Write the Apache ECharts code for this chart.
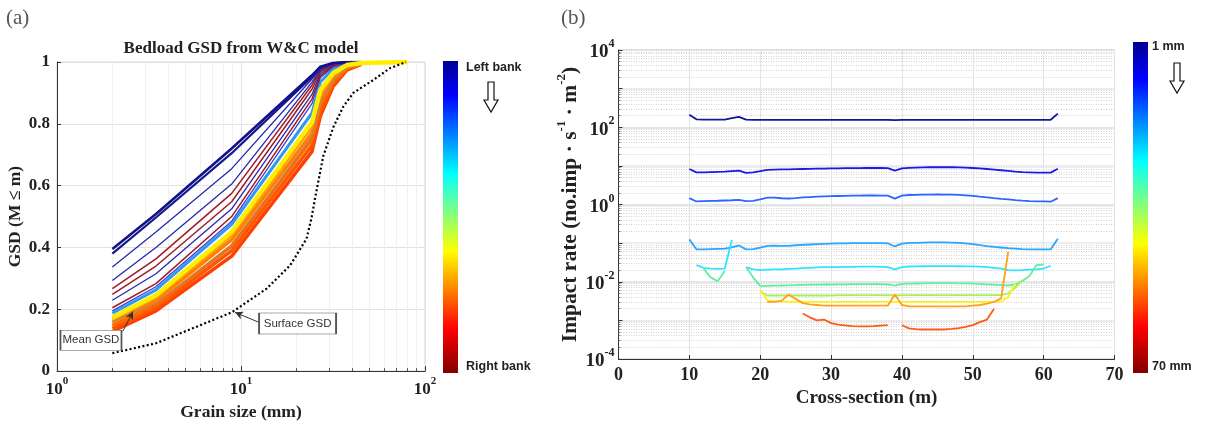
<!DOCTYPE html>
<html><head><meta charset="utf-8">
<script src="https://cdn.jsdelivr.net/npm/echarts@6/dist/echarts.min.js"></script>
<style>html,body{margin:0;padding:0;background:#fff}#c{width:1206px;height:426px}</style>
</head><body><div id="c"></div>
<script>
// ---------------- Panel (a): bedload GSD curves ----------------
const grainSize = [2, 3.45, 8.9, 24.3, 27, 31.6, 37.6, 45, 80];
const gsdNavyA  = [0.395, 0.508, 0.720, 0.957, 0.985, 0.997, 1, 1];
const gsdNavyB  = [0.380, 0.497, 0.705, 0.952, 0.982, 0.996, 1, 1];
const gsdBlue1  = [0.337, 0.450, 0.655, 0.945, 0.978, 0.995, 1, 1];
const gsdBlue2  = [0.293, 0.400, 0.605, 0.935, 0.975, 0.993, 1, 1];
const gsdRed1   = [0.267, 0.363, 0.575, 0.925, 0.972, 0.992, 1, 1];
const gsdRed2   = [0.248, 0.340, 0.548, 0.912, 0.968, 0.990, 1, 1];
const gsdBlue3  = [0.229, 0.315, 0.525, 0.895, 0.962, 0.988, 1, 1];
const gsdRed3   = [0.205, 0.283, 0.500, 0.880, 0.955, 0.986, 0.999, 1];
const gsdBlue4  = [0.195, 0.273, 0.485, 0.865, 0.950, 0.984, 0.999, 1];
const gsdLightBlue = [0.187, 0.263, 0.475, 0.835, 0.935, 0.978, 0.998, 1];
const gsdYellow = [0.173, 0.245, 0.450, 0.805, 0.910, 0.963, 0.990, 0.997, 1];
const gsdOrange1 = [0.168, 0.238, 0.440, 0.790, 0.895, 0.955, 0.987, 0.996];
const gsdOrange2 = [0.158, 0.228, 0.425, 0.770, 0.875, 0.945, 0.983, 0.995];
const gsdOrange3 = [0.148, 0.215, 0.405, 0.750, 0.860, 0.935, 0.980, 0.994];
const gsdOrange4 = [0.138, 0.205, 0.390, 0.730, 0.840, 0.928, 0.977, 0.993];
const gsdOrange5 = [0.128, 0.195, 0.372, 0.710, 0.825, 0.920, 0.974, 0.992];
const gsdMean    = [0.160, 0.220, 0.405, 0.760, 0.870, 0.940, 0.982, 0.995];

const surfaceSize = [2, 3.45, 8.9, 13.8, 18.5, 22.7, 24.2, 25.2, 28, 31.8, 36, 40.8, 52.4, 64.5, 78.8];
const surfaceGSD  = [0.058, 0.09, 0.19, 0.267, 0.342, 0.428, 0.497, 0.556, 0.696, 0.79, 0.856, 0.90, 0.942, 0.98, 1.0];

// ---------------- Panel (b): impact rate per grain size ----------------
const crossSection = [10,11,12,13,14,15,16,17,18,19,20,21,22,23,24,25,26,27,28,29,30,31,32,33,34,35,36,37,38,39,40,41,42,43,44,45,46,47,48,49,50,51,52,53,54,55,56,57,58,59,60,61,62];
const rate1 = [210,160,158,158,158,158,172,185,157,156,156,156,156,156,156,156,156,156,156,156,156,156,156,156,156,156,156,156,156,152,156,156,156,156,156,156,156,156,156,156,156,156,156,156,156,156,156,156,156,156,156,156,225];
const rate2 = [8.3,6.8,6.8,6.9,7.0,7.1,7.3,7.5,6.6,6.8,7.3,7.9,8.0,8.1,8.1,8.2,8.3,8.4,8.5,8.5,8.6,8.6,8.7,8.7,8.7,8.8,8.8,8.8,8.7,7.5,8.6,8.9,9.0,9.1,9.2,9.2,9.2,9.2,9.1,9.0,8.8,8.6,8.3,8.0,7.7,7.4,7.1,6.9,6.8,6.7,6.7,6.7,8.4];
const rate3 = [1.46,1.2,1.22,1.24,1.25,1.27,1.29,1.32,1.22,1.24,1.35,1.5,1.5,1.45,1.43,1.47,1.52,1.56,1.6,1.62,1.64,1.66,1.68,1.69,1.7,1.71,1.71,1.7,1.69,1.42,1.7,1.76,1.78,1.8,1.81,1.82,1.81,1.8,1.77,1.73,1.68,1.6,1.53,1.46,1.4,1.35,1.3,1.26,1.23,1.21,1.2,1.18,1.46];
const rate4 = [0.125,0.069,0.069,0.07,0.071,0.072,0.078,0.087,0.069,0.07,0.077,0.085,0.086,0.085,0.085,0.088,0.09,0.092,0.094,0.096,0.097,0.098,0.099,0.1,0.1,0.1,0.1,0.1,0.099,0.082,0.097,0.101,0.102,0.103,0.104,0.104,0.104,0.103,0.101,0.098,0.094,0.089,0.084,0.08,0.077,0.074,0.072,0.07,0.069,0.069,0.069,0.069,0.13];
const rate5 = [null,0.027,0.023,0.022,0.0215,0.022,0.12,null,0.024,0.021,0.020,0.0205,0.021,0.021,0.0215,0.022,0.0225,0.023,0.0235,0.024,0.024,0.024,0.0242,0.0244,0.0245,0.0245,0.0245,0.0243,0.024,0.021,0.024,0.0248,0.025,0.0252,0.0254,0.0255,0.0255,0.0254,0.0252,0.025,0.025,0.0245,0.024,0.023,0.022,0.020,0.0198,0.02,0.0205,0.021,0.022,0.026,null];
const rate6 = [null,null,0.022,0.013,0.0103,0.019,null,null,0.024,0.013,0.0078,0.0078,0.0079,0.008,0.0081,0.0082,0.0083,0.0084,0.0084,0.0085,0.0085,0.0086,0.0086,0.0087,0.0087,0.0087,0.0087,0.0087,0.0086,0.0079,0.0088,0.0089,0.009,0.0091,0.0092,0.0092,0.0092,0.0092,0.0091,0.0091,0.009,0.0088,0.0086,0.0084,0.0082,0.008,0.0085,0.0105,0.014,0.027,0.028,null,null];
const rate7 = [null,null,null,null,null,null,null,null,null,null,0.0057,0.0044,0.0044,0.0044,0.0044,0.0044,0.0044,0.0044,0.0044,0.0044,0.0044,0.0045,0.0045,0.0045,0.0045,0.0045,0.0045,0.0045,0.0045,0.0044,0.0045,0.0045,0.0045,0.0045,0.0045,0.0045,0.0045,0.0045,0.0045,0.0045,0.0045,0.0045,0.0045,0.0045,0.0045,0.005,0.007,0.011,null,null,null,null,null];
const rate8 = [null,null,null,null,null,null,null,null,null,null,0.006,0.0033,0.0031,0.0031,0.003,0.003,0.003,0.003,0.003,0.003,0.003,0.003,0.003,0.003,0.003,0.003,0.003,0.003,0.003,0.003,0.003,0.003,0.003,0.003,0.003,0.003,0.003,0.003,0.003,0.003,0.003,0.003,0.003,0.003,0.0031,0.004,0.009,null,null,null,null,null,null];
const rate9 = [null,null,null,null,null,null,null,null,null,null,null,0.003,0.003,0.0032,0.0047,0.0036,0.0028,0.0026,0.0025,0.0024,0.0024,0.0024,0.0024,0.0024,0.0024,0.0024,0.0024,0.0024,0.0024,0.0047,0.0025,0.0023,0.0023,0.0023,0.0023,0.0023,0.0023,0.0023,0.0023,0.0023,0.0024,0.0025,0.0027,0.003,0.0037,0.06,null,null,null,null,null,null,null];
const rate10 = [null,null,null,null,null,null,null,null,null,null,null,null,null,null,null,null,0.0015,0.0012,0.001,0.00105,0.00085,0.00078,0.00074,0.00071,0.0007,0.0007,0.00071,0.00073,0.00075,null,0.00075,0.00062,0.00059,0.00058,0.00058,0.00058,0.00058,0.0006,0.00063,0.00068,0.00075,0.0009,0.00105,0.002,null,null,null,null,null,null,null,null,null];

// ---------------- styles ----------------
const serif = '"Liberation Serif", "Times New Roman", serif';
const sans = '"Liberation Sans", Arial, sans-serif';
const TXT = '#222';

const leftStyles = [
  // [data, color, width]  (draw order: bottom first)
  [gsdOrange5, '#ff4000', 3.5],
  [gsdOrange4, '#ff5500', 3.5],
  [gsdOrange3, '#ff6a00', 3.5],
  [gsdOrange2, '#ff8000', 3.5],
  [gsdOrange1, '#ff9a00', 3.0],
  [gsdMean, '#9c8a86', 1.0],
  [gsdLightBlue, '#3399f0', 3.0],
  [gsdBlue4, '#3344d8', 1.3],
  [gsdRed3, '#a01c24', 1.5],
  [gsdBlue3, '#2828b0', 1.3],
  [gsdRed2, '#a01c24', 1.5],
  [gsdRed1, '#a01c24', 1.5],
  [gsdBlue2, '#2828b0', 1.3],
  [gsdBlue1, '#2828b0', 1.3],
  [gsdNavyB, '#16168e', 2.2],
  [gsdNavyA, '#12128a', 2.6],
  [gsdYellow, '#ffee00', 4.5]
];
const rightStyles = [
  [rate1, '#14149c'], [rate2, '#1a1ae6'], [rate3, '#2a66ff'], [rate4, '#2aa6ff'],
  [rate5, '#30e4ff'], [rate6, '#5cf0a0'], [rate7, '#a6f25a'], [rate8, '#fff01a'],
  [rate9, '#ffa01e'], [rate10, '#ff5a1a']
];

function richSup(big, small) {
  return {
    b: {fontFamily: serif, fontWeight: 'bold', fontSize: big, color: TXT, lineHeight: big + 5, verticalAlign: 'bottom'},
    s: {fontFamily: serif, fontWeight: 'bold', fontSize: small, color: TXT, lineHeight: small + 1, verticalAlign: 'top'}
  };
}
function powLabel(v) {
  const e = Math.round(Math.log10(v));
  return '{b|10}{s|' + e + '}';
}
function powLabelEven(v) {
  const e = Math.round(Math.log10(v));
  if (e % 2 !== 0) return '';
  return '{b|10}{s|' + e + '}';
}
const nameStyleA = {fontFamily: serif, fontWeight: 'bold', fontSize: 17.5, color: TXT};
const nameStyleB = {fontFamily: serif, fontWeight: 'bold', fontSize: 19, color: TXT};
const tickStyleA = {fontFamily: serif, fontWeight: 'bold', fontSize: 17, color: TXT};
const tickStyleB = {fontFamily: serif, fontWeight: 'bold', fontSize: 18, color: TXT};

const series = [];
leftStyles.forEach(function (s) {
  series.push({
    type: 'line', xAxisIndex: 0, yAxisIndex: 0, symbol: 'none',
    data: s[0].map(function (v, i) { return [grainSize[i], v]; }),
    lineStyle: {color: s[1], width: s[2]}, z: 3
  });
});
series.push({
  type: 'line', xAxisIndex: 0, yAxisIndex: 0, symbol: 'none',
  data: surfaceSize.map(function (g, i) { return [g, surfaceGSD[i]]; }),
  lineStyle: {color: '#000', width: 2.2, type: [2, 2.4]}, z: 4,
  markLine: {
    silent: true, symbol: ['none', 'arrow'], symbolSize: [6, 8],
    lineStyle: {color: '#333', width: 1, type: 'solid'}, label: {show: false},
    data: [
      [{coord: [12.5, 0.158]}, {coord: [9.27, 0.19]}],
      [{coord: [2.28, 0.129]}, {coord: [2.59, 0.193]}]
    ]
  },
  markPoint: {
    silent: true, symbol: 'rect',
    itemStyle: {color: '#fff', borderColor: '#555', borderWidth: 1},
    label: {show: true, position: 'inside', formatter: '{b}', color: '#333', fontFamily: sans, fontSize: 11.5},
    data: [
      {name: 'Surface GSD', coord: [20.3, 0.154], symbolSize: [77, 21]},
      {name: 'Mean GSD', coord: [1.53, 0.0997], symbolSize: [61, 20]}
    ]
  }
});
rightStyles.forEach(function (s) {
  series.push({
    type: 'line', xAxisIndex: 1, yAxisIndex: 1, symbol: 'none', connectNulls: false,
    data: crossSection.map(function (x, i) { return [x, s[0][i]]; }),
    lineStyle: {color: s[1], width: 1.8}, z: 3
  });
});

// jet colour bar gradient
function jet() {
  return new echarts.graphic.LinearGradient(0, 0, 0, 1, [
    {offset: 0, color: '#00008f'}, {offset: 0.11, color: '#0000ff'},
    {offset: 0.36, color: '#00ffff'}, {offset: 0.61, color: '#ffff00'},
    {offset: 0.86, color: '#ff0000'}, {offset: 1, color: '#800000'}
  ]);
}
function arrow(cx, y0, y1) {
  const ym = y0 + (y1 - y0) * 0.6;
  return {type: 'polygon', shape: {points: [[cx - 3, y0], [cx + 3, y0], [cx + 3, ym], [cx + 7, ym], [cx, y1], [cx - 7, ym], [cx - 3, ym]]},
    style: {fill: '#fff', stroke: '#111', lineWidth: 1.2}};
}
function txt(x, y, text, font, align, fill) {
  return {type: 'text', x: x, y: y, style: {text: text, font: font, textAlign: align || 'left', textVerticalAlign: 'middle', fill: fill || TXT}};
}

const option = {
  animation: false,
  backgroundColor: '#fff',
  grid: [
    {left: 57, top: 62, width: 368, height: 311, show: true, borderColor: '#d6d6d6', borderWidth: 1},
    {left: 618.5, top: 50, width: 496, height: 309, show: true, borderColor: '#d6d6d6', borderWidth: 1}
  ],
  xAxis: [
    {type: 'log', logBase: 10, gridIndex: 0, min: 1, max: 100,
      axisLine: {show: true, onZero: false, lineStyle: {color: '#333'}},
      axisTick: {show: true, inside: true, length: 5, lineStyle: {color: '#333'}},
      minorTick: {show: true, splitNumber: 9, length: 3, lineStyle: {color: '#555'}},
      splitLine: {show: true, lineStyle: {color: '#e2e2e2'}},
      minorSplitLine: {show: true, lineStyle: {color: '#f0f0f0'}},
      axisLabel: {formatter: powLabel, rich: richSup(17, 11), margin: 5},
      name: 'Grain size (mm)', nameLocation: 'middle', nameGap: 31, nameTextStyle: nameStyleA},
    {type: 'value', gridIndex: 1, min: 0, max: 70, interval: 10,
      axisLine: {show: true, onZero: false, lineStyle: {color: '#333'}},
      axisTick: {show: true, inside: true, length: 4, lineStyle: {color: '#333'}},
      splitLine: {show: true, lineStyle: {color: '#e4e4e4'}},
      axisLabel: Object.assign({margin: 7}, tickStyleB),
      name: 'Cross-section (m)', nameLocation: 'middle', nameGap: 29, nameTextStyle: nameStyleB}
  ],
  yAxis: [
    {type: 'value', gridIndex: 0, min: 0, max: 1, interval: 0.2,
      axisLine: {show: true, onZero: false, lineStyle: {color: '#333'}},
      axisTick: {show: true, inside: true, length: 4, lineStyle: {color: '#333'}},
      splitLine: {show: true, lineStyle: {color: '#e2e2e2'}},
      axisLabel: Object.assign({margin: 7}, tickStyleA),
      name: 'GSD (M ≤ m)', nameLocation: 'middle', nameGap: 28, nameTextStyle: nameStyleA},
    {type: 'log', logBase: 10, gridIndex: 1, min: 1e-4, max: 1e4,
      axisLine: {show: true, onZero: false, lineStyle: {color: '#333'}},
      axisTick: {show: true, inside: true, length: 4, lineStyle: {color: '#333'}},
      minorTick: {show: true, splitNumber: 9, length: 2, lineStyle: {color: '#777'}},
      splitLine: {show: true, lineStyle: {color: ['#dcdcdc', '#e6e6e6'], width: 1.5}},
      minorSplitLine: {show: true, lineStyle: {color: '#d2d2d2', type: [1, 1.5], width: 1}},
      axisLabel: {formatter: powLabelEven, rich: richSup(19, 12), margin: 4},
      name: '{b|Impact rate (no.imp · s}{s|-1}{b| · m}{s|-2}{b|)}', nameLocation: 'middle', nameGap: 37,
      nameTextStyle: {rich: richSup(21.5, 13)}}
  ],
  series: series,
  graphic: [
    txt(6, 18, '(a)', '21px ' + serif, 'left', '#555'),
    txt(561, 18, '(b)', '21px ' + serif, 'left', '#555'),
    txt(241, 49, 'Bedload GSD from W&C model', 'bold 17px ' + serif, 'center', TXT),
    {type: 'rect', shape: {x: 443, y: 61, width: 15, height: 312}, style: {fill: jet()}},
    txt(466, 68, 'Left bank', 'bold 12.5px ' + sans, 'left', TXT),
    txt(466, 367, 'Right bank', 'bold 12.5px ' + sans, 'left', TXT),
    arrow(491, 82, 112),
    {type: 'rect', shape: {x: 1133, y: 42, width: 15, height: 331}, style: {fill: jet()}},
    txt(1152, 47, '1 mm', 'bold 12.5px ' + sans, 'left', TXT),
    txt(1152, 367, '70 mm', 'bold 12.5px ' + sans, 'left', TXT),
    arrow(1177, 63, 93)
  ]
};
const chart = echarts.init(document.getElementById('c'));
chart.setOption(option);
</script>
</body></html>
